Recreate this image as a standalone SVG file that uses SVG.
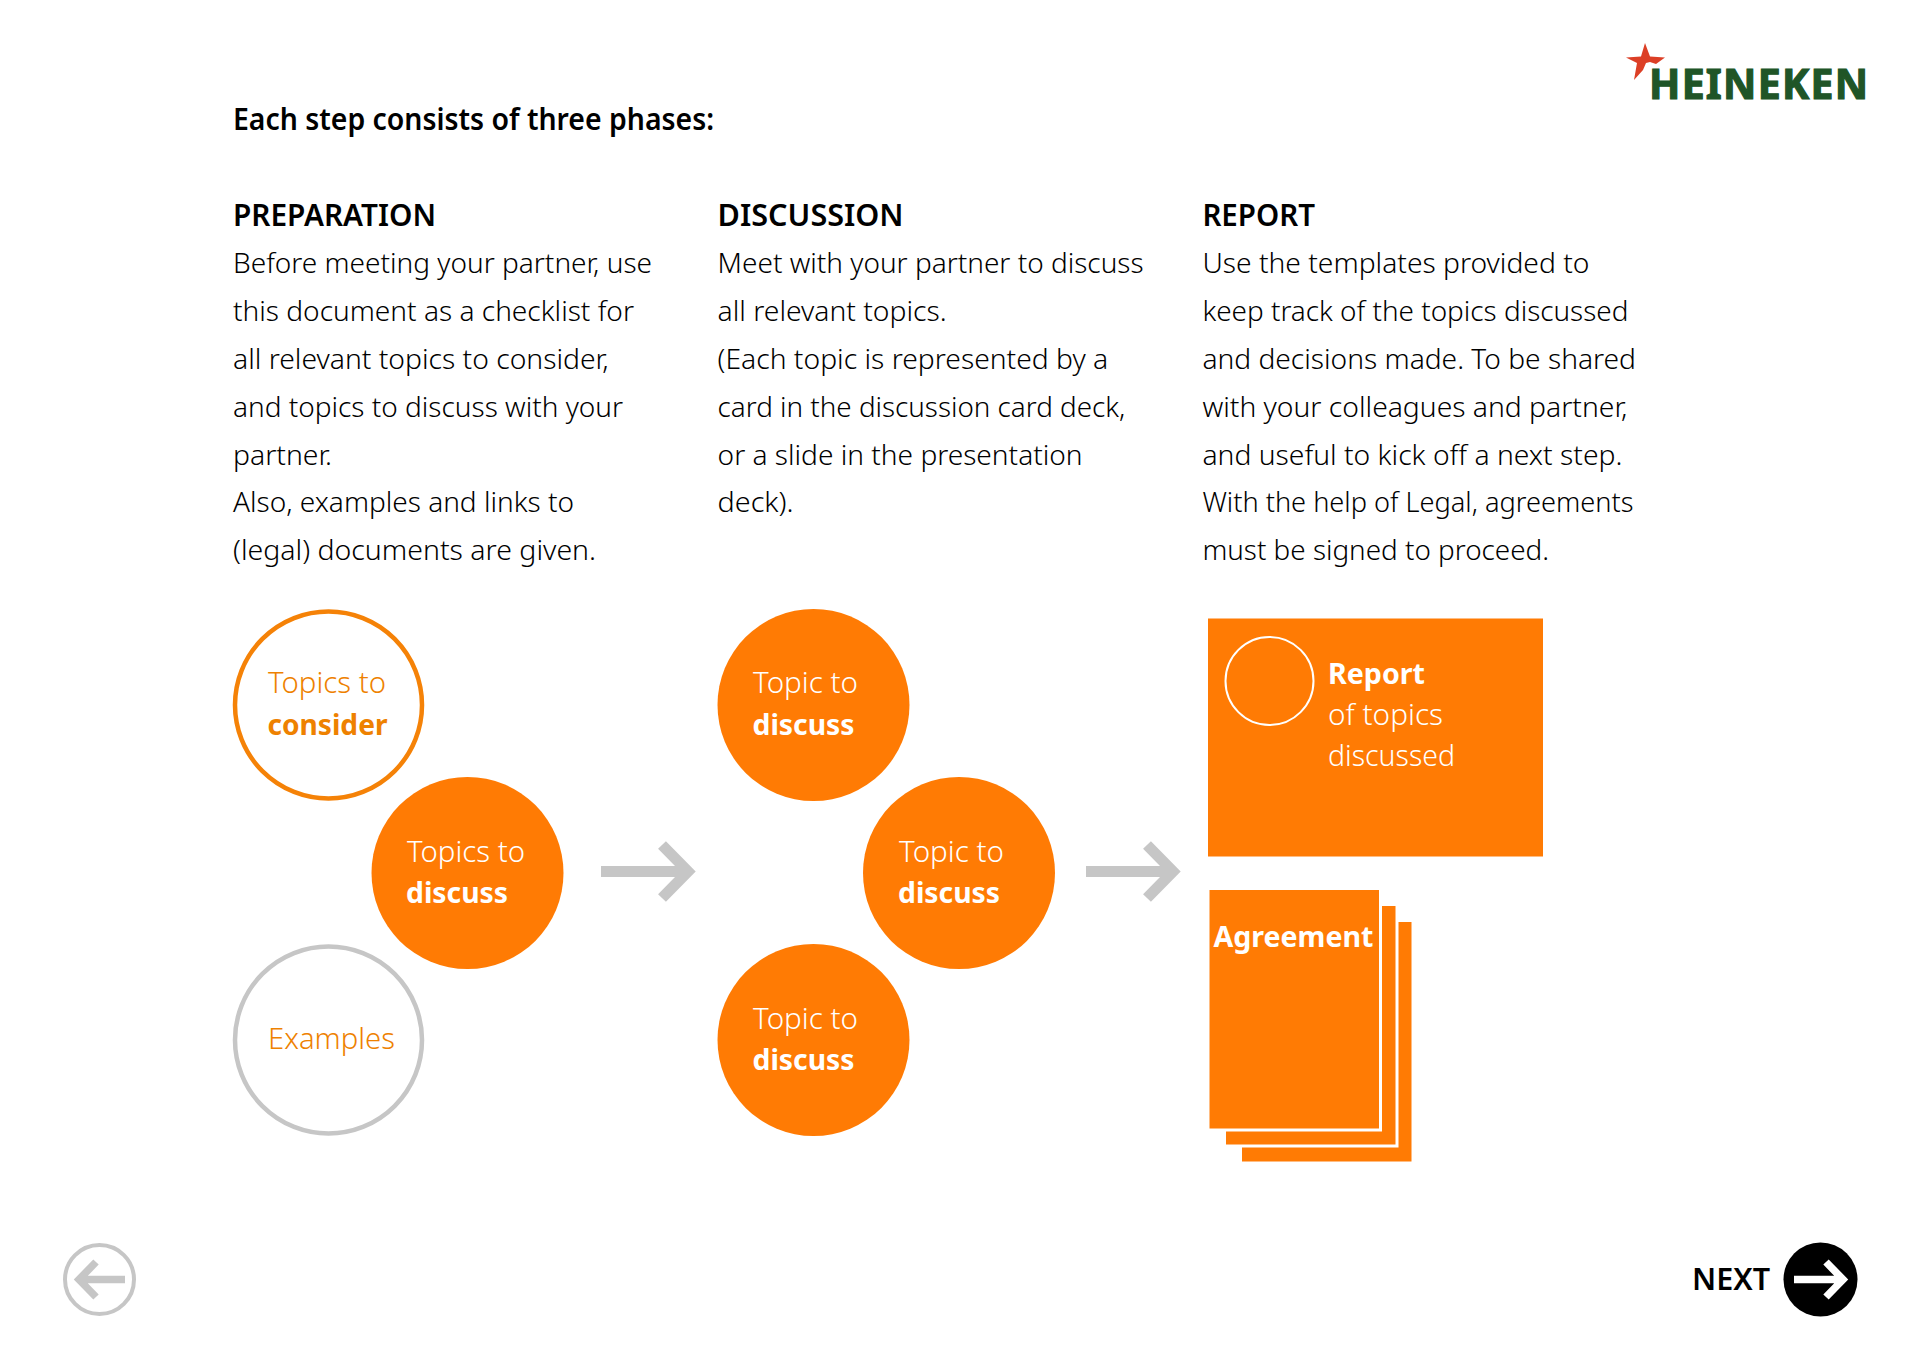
<svg xmlns="http://www.w3.org/2000/svg" width="1920" height="1358" viewBox="0 0 1920 1358">
<style>
text{font-family:"Noto Sans","Open Sans",sans-serif}
.b{font-size:28px;font-weight:300;fill:#000}
.h{font-size:30px;font-weight:600;fill:#000}
.c{font-size:29px;font-weight:300}
.w{fill:#fff}
.o{fill:#ee8100}
.s{font-weight:700}
.fill{fill:#ff7b04}
.sheet{fill:#ff7b04;stroke:#fff;stroke-width:3}
.arrow{fill:none;stroke:#c6c6c6;stroke-width:11}
</style>
<rect width="1920" height="1358" fill="#fff"/>
<g id="logo">
<polygon points="1645,43 1650,56.5 1665,57.5 1656,64 1650,62 1646,63 1643,70 1634,80 1637,63 1626,57.5 1641,56.5" fill="#dc3f26"/>
<text x="1649" y="99" font-size="41" font-weight="700" fill="#205527" stroke="#205527" stroke-width="1.2" textLength="219" lengthAdjust="spacing">HEINEKEN</text>
</g>
<g id="title"><text class="h" x="233" y="129.5" textLength="481" lengthAdjust="spacingAndGlyphs">Each step consists of three phases:</text></g>
<g id="preparation-text">
<text class="h" x="233" y="226" textLength="203" lengthAdjust="spacingAndGlyphs">PREPARATION</text>
<text class="b" x="233" y="273" textLength="419" lengthAdjust="spacingAndGlyphs">Before meeting your partner, use</text>
<text class="b" x="233" y="321" textLength="401" lengthAdjust="spacingAndGlyphs">this document as a checklist for</text>
<text class="b" x="233" y="369" textLength="375.6" lengthAdjust="spacingAndGlyphs">all relevant topics to consider,</text>
<text class="b" x="233" y="416.5" textLength="390" lengthAdjust="spacingAndGlyphs">and topics to discuss with your</text>
<text class="b" x="233" y="464.5" textLength="99" lengthAdjust="spacingAndGlyphs">partner.</text>
<text class="b" x="233" y="512" textLength="341" lengthAdjust="spacingAndGlyphs">Also, examples and links to</text>
<text class="b" x="233" y="560" textLength="363" lengthAdjust="spacingAndGlyphs">(legal) documents are given.</text>
</g>
<g id="discussion-text">
<text class="h" x="717.6" y="226" textLength="186" lengthAdjust="spacingAndGlyphs">DISCUSSION</text>
<text class="b" x="717.6" y="273" textLength="426" lengthAdjust="spacingAndGlyphs">Meet with your partner to discuss</text>
<text class="b" x="717.6" y="321" textLength="229" lengthAdjust="spacingAndGlyphs">all relevant topics.</text>
<text class="b" x="717.6" y="369" textLength="390.6" lengthAdjust="spacingAndGlyphs">(Each topic is represented by a</text>
<text class="b" x="717.6" y="416.5" textLength="407.7" lengthAdjust="spacingAndGlyphs">card in the discussion card deck,</text>
<text class="b" x="717.6" y="464.5" textLength="365" lengthAdjust="spacingAndGlyphs">or a slide in the presentation</text>
<text class="b" x="717.6" y="512" textLength="76" lengthAdjust="spacingAndGlyphs">deck).</text>
</g>
<g id="report-text">
<text class="h" x="1202.4" y="226" textLength="112.6" lengthAdjust="spacingAndGlyphs">REPORT</text>
<text class="b" x="1202.4" y="273" textLength="387" lengthAdjust="spacingAndGlyphs">Use the templates provided to</text>
<text class="b" x="1202.4" y="321" textLength="426" lengthAdjust="spacingAndGlyphs">keep track of the topics discussed</text>
<text class="b" x="1202.4" y="369" textLength="433.6" lengthAdjust="spacingAndGlyphs">and decisions made. To be shared</text>
<text class="b" x="1202.4" y="416.5" textLength="425" lengthAdjust="spacingAndGlyphs">with your colleagues and partner,</text>
<text class="b" x="1202.4" y="464.5" textLength="420" lengthAdjust="spacingAndGlyphs">and useful to kick off a next step.</text>
<text class="b" x="1202.4" y="512" textLength="431" lengthAdjust="spacingAndGlyphs">With the help of Legal, agreements</text>
<text class="b" x="1202.4" y="560" textLength="346.6" lengthAdjust="spacingAndGlyphs">must be signed to proceed.</text>
</g>
<g id="connectors">
<path class="arrow" d="M601 871.5H686M662 845L688 871.5L662 898"/>
<path class="arrow" d="M1086 871.5H1171M1147 845L1173 871.5L1147 898"/>
</g>
<g id="topics-consider">
<circle cx="328.5" cy="705" r="93.5" fill="#fff" stroke="#f58207" stroke-width="4.5"/>
<text class="c o" x="268" y="692.5" textLength="118" lengthAdjust="spacingAndGlyphs">Topics to</text>
<text class="c o s" x="267.5" y="735" textLength="120" lengthAdjust="spacingAndGlyphs">consider</text>
</g>
<g id="topics-discuss">
<circle class="fill" cx="467.5" cy="873" r="96"/>
<text class="c w" x="407" y="862" textLength="118" lengthAdjust="spacingAndGlyphs">Topics to</text>
<text class="c w s" x="406" y="903" textLength="102" lengthAdjust="spacingAndGlyphs">discuss</text>
</g>
<g id="examples">
<circle cx="328.5" cy="1040" r="93.5" fill="#fff" stroke="#c6c6c6" stroke-width="4.5"/>
<text class="c o" x="268" y="1049" textLength="127" lengthAdjust="spacingAndGlyphs">Examples</text>
</g>
<g id="topic-1">
<circle class="fill" cx="813.5" cy="705" r="96"/>
<text class="c w" x="753" y="692.5" textLength="105" lengthAdjust="spacingAndGlyphs">Topic to</text>
<text class="c w s" x="752.5" y="735" textLength="102" lengthAdjust="spacingAndGlyphs">discuss</text>
</g>
<g id="topic-2">
<circle class="fill" cx="959" cy="873" r="96"/>
<text class="c w" x="899" y="862" textLength="105" lengthAdjust="spacingAndGlyphs">Topic to</text>
<text class="c w s" x="898" y="903" textLength="102" lengthAdjust="spacingAndGlyphs">discuss</text>
</g>
<g id="topic-3">
<circle class="fill" cx="813.5" cy="1040" r="96"/>
<text class="c w" x="753" y="1029" textLength="105" lengthAdjust="spacingAndGlyphs">Topic to</text>
<text class="c w s" x="752.5" y="1070" textLength="102" lengthAdjust="spacingAndGlyphs">discuss</text>
</g>
<g id="report-card">
<rect class="fill" x="1208" y="618.5" width="335" height="238"/>
<circle cx="1269.5" cy="681" r="44" fill="none" stroke="#fff" stroke-width="2"/>
<text class="c w s" x="1328" y="684" textLength="97" lengthAdjust="spacingAndGlyphs">Report</text>
<text class="c w" x="1328" y="725" textLength="115" lengthAdjust="spacingAndGlyphs">of topics</text>
<text class="c w" x="1328" y="766" textLength="127" lengthAdjust="spacingAndGlyphs">discussed</text>
</g>
<g id="agreement">
<rect class="sheet" x="1240.5" y="920.5" width="172.5" height="242.5"/>
<rect class="sheet" x="1224.5" y="904.5" width="172.5" height="241.5"/>
<rect class="sheet" x="1208" y="888.5" width="172.5" height="241.5"/>
<text class="c w s" x="1213.5" y="947" textLength="160" lengthAdjust="spacingAndGlyphs">Agreement</text>
</g>
<g id="back-button">
<circle cx="99.5" cy="1279.5" r="34.5" fill="#fff" stroke="#c6c6c6" stroke-width="4"/>
<path d="M125 1279.5H80M96 1262L79 1279.5L96 1297" fill="none" stroke="#c6c6c6" stroke-width="7.5"/>
</g>
<g id="next-button">
<text x="1692" y="1289.5" font-size="30" font-weight="600" fill="#000" textLength="78" lengthAdjust="spacingAndGlyphs">NEXT</text>
<circle cx="1820.5" cy="1279.5" r="37" fill="#000"/>
<path d="M1794 1279.5H1840M1826 1262L1843 1279.5L1826 1297" fill="none" stroke="#fff" stroke-width="7.5"/>
</g>
</svg>
